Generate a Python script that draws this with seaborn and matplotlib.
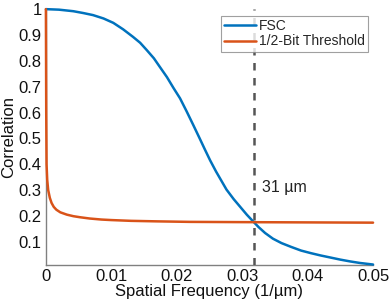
import numpy as np
import pandas as pd
import matplotlib
matplotlib.use("Agg")
import matplotlib.pyplot as plt
from matplotlib.ticker import FuncFormatter
import seaborn as sns

# ---------- Data ----------
freq_fsc = [0, 0.002, 0.0042, 0.0057, 0.0072, 0.0088, 0.0103, 0.0118, 0.0133, 0.0144,
            0.0154, 0.0165, 0.0174, 0.0185, 0.0195, 0.0205, 0.0215, 0.0225, 0.0235, 0.0243,
            0.0251, 0.0260, 0.0268, 0.0276, 0.0287, 0.0297, 0.0307, 0.0317, 0.0325, 0.0335,
            0.0347, 0.0360, 0.0375, 0.0390, 0.0405, 0.0420, 0.0435, 0.0450, 0.0465, 0.0480,
            0.0500]
fsc = [1.0, 0.998, 0.992, 0.985, 0.977, 0.964, 0.947, 0.922, 0.893, 0.870,
       0.842, 0.810, 0.777, 0.737, 0.695, 0.655, 0.605, 0.553, 0.500, 0.457,
       0.415, 0.372, 0.337, 0.302, 0.265, 0.235, 0.205, 0.178, 0.157, 0.134,
       0.112, 0.095, 0.080, 0.066, 0.056, 0.047, 0.039, 0.031, 0.024, 0.018,
       0.012]

freq_thr = [0, 0.00005, 0.0001, 0.0002, 0.00035, 0.0006, 0.00087, 0.0012, 0.0016, 0.0022,
            0.0032, 0.0042, 0.0052, 0.0067, 0.0085, 0.010, 0.013, 0.017, 0.022, 0.030,
            0.040, 0.050]
threshold = [1.0, 0.6, 0.4, 0.34, 0.30, 0.27, 0.25, 0.235, 0.224, 0.214,
             0.205, 0.199, 0.195, 0.19, 0.186, 0.184, 0.181, 0.179, 0.177, 0.176,
             0.175, 0.174]

resolution_freq = 0.0318
resolution_label = "31 µm"

df = pd.concat([
    pd.DataFrame({"freq": freq_fsc, "corr": fsc, "series": "FSC"}),
    pd.DataFrame({"freq": freq_thr, "corr": threshold, "series": "1/2-Bit Threshold"}),
], ignore_index=True)

# ---------- Plot ----------
sns.set_style("white")
plt.rcParams["font.family"] = ["Liberation Sans", "DejaVu Sans"]

fig = plt.figure(figsize=(3.89, 3.05), dpi=100)
ax = fig.add_axes([0.118, 0.131, 0.841, 0.839])

palette = {"FSC": "#0072BD", "1/2-Bit Threshold": "#D95319"}
sns.lineplot(data=df, x="freq", y="corr", hue="series", palette=palette,
             linewidth=1.8, ax=ax, sort=False, estimator=None)
for line in ax.lines:
    line.set_clip_on(False)
    line.set_zorder(5)

ax.axvline(resolution_freq, color="#555555", linestyle=(0, (3, 3)), linewidth=1.8, zorder=3)
ax.text(resolution_freq + 0.0013, 0.31, resolution_label, fontsize=11.5,
        va="center", ha="left", color="#222222")

ax.set_xlim(0, 0.05)
ax.set_ylim(0.01, 1)
ax.set_xticks(np.arange(0, 0.051, 0.01))
ax.set_yticks(np.arange(0.1, 1.01, 0.1))
ax.xaxis.set_major_formatter(FuncFormatter(lambda v, p: f"{v:.2f}".rstrip("0").rstrip(".") if v else "0"))
ax.yaxis.set_major_formatter(FuncFormatter(lambda v, p: f"{v:.1f}".rstrip("0").rstrip(".")))

ax.tick_params(direction="in", length=3, width=0.8, color="#808080",
               labelsize=12, labelcolor="#111111", pad=3)
for side in ["top", "right"]:
    ax.spines[side].set_visible(False)
for side in ["left", "bottom"]:
    ax.spines[side].set_color("#808080")
    ax.spines[side].set_linewidth(1.0)

ax.set_xlabel("Spatial Frequency (1/µm)", fontsize=12, labelpad=0, color="#111111")
ax.set_ylabel("Correlation", fontsize=12, labelpad=2, color="#111111")

leg = ax.legend(loc="upper right", bbox_to_anchor=(0.985, 0.975), fontsize=10,
                frameon=True, fancybox=False, handlelength=2.3, handletextpad=0.2,
                borderpad=0.25, labelspacing=0.1, borderaxespad=0)
leg.get_frame().set_edgecolor("#888888")
leg.get_frame().set_linewidth(0.8)
leg.set_zorder(10)

fig.savefig("out.png", dpi=100)
